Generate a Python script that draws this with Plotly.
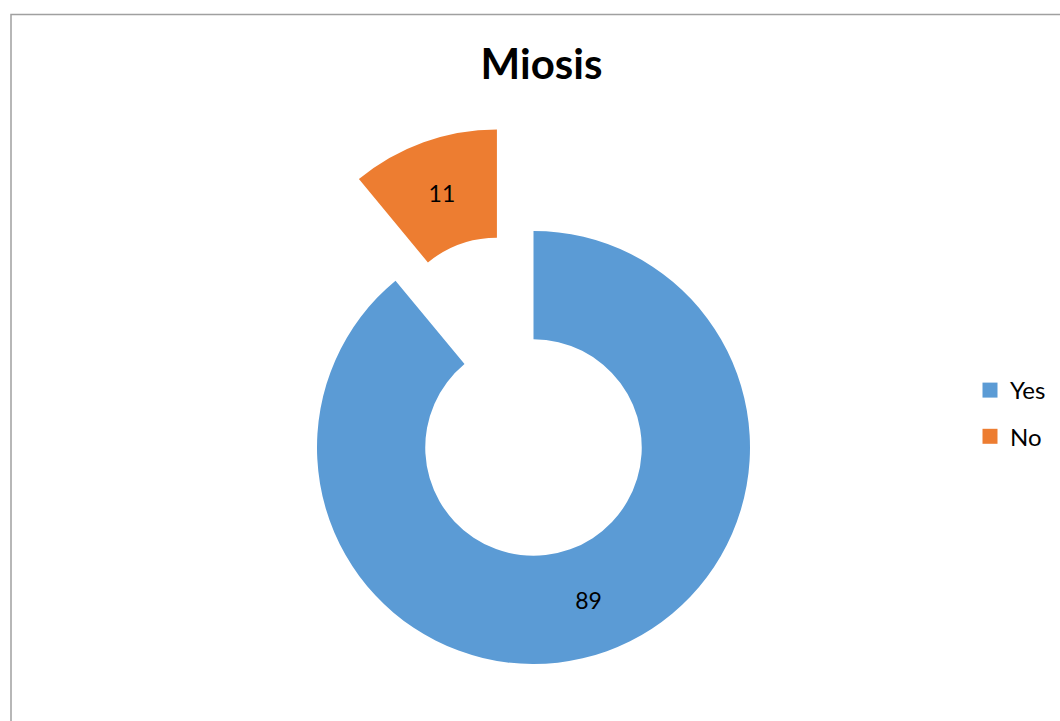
import math
import plotly.graph_objects as go

# ---- data ----
title_text = "Miosis"
labels = ["Yes", "No"]
values = [89, 11]
colors = ["#5B9BD5", "#ED7D31"]
pulled = [False, True]          # the "No" slice is exploded out of the ring

# ---- geometry (pixels) ----
W, H = 1060, 721
cx, cy = 533.5, 447.5            # ring centre
R = 216.5                        # outer radius
hole = 0.5
pull_px = 108                    # distance the exploded slice is moved

total = sum(values)
# mid-angle of the "No" slice (clockwise from 12 o'clock)
start = sum(values[:1]) / total * 360
mid = math.radians(start + values[1] / total * 360 / 2)
sx = cx + pull_px * math.sin(mid)
sy = cy - pull_px * math.cos(mid)


def dom(x, y):
    return dict(x=[(x - R) / W, (x + R) / W],
                y=[1 - (y + R) / H, 1 - (y - R) / H])


transparent = "rgba(0,0,0,0)"
label_font = dict(family="Lato", size=23, color="#000000")
fig = go.Figure()

# ring part (not pulled)
fig.add_trace(go.Pie(
    labels=labels, values=values, sort=False, direction="clockwise", rotation=0,
    hole=hole, domain=dom(cx, cy), showlegend=False,
    marker=dict(colors=[c if not p else transparent for c, p in zip(colors, pulled)],
                line=dict(width=0)),
    texttemplate=["%{value}" if not p else "" for p in pulled],
    textposition="inside", insidetextorientation="horizontal",
    textfont=label_font, hoverinfo="skip",
))
# exploded part
fig.add_trace(go.Pie(
    labels=labels, values=values, sort=False, direction="clockwise", rotation=0,
    hole=hole, domain=dom(sx, sy), showlegend=False,
    marker=dict(colors=[c if p else transparent for c, p in zip(colors, pulled)],
                line=dict(width=0)),
    texttemplate=["%{value}" if p else "" for p in pulled],
    textposition="inside", insidetextorientation="horizontal",
    textfont=label_font, hoverinfo="skip",
))

# legend entries
for i, (lab, col) in enumerate(zip(labels, colors)):
    fig.add_trace(go.Scatter(
        x=[None], y=[None], mode="markers", name=lab, legendgroup=f"g{i}",
        marker=dict(symbol="square", size=15, color=col),
    ))

fig.update_layout(
    width=W, height=H,
    margin=dict(l=0, r=0, t=0, b=0),
    paper_bgcolor="white", plot_bgcolor="white",
    xaxis=dict(visible=False), yaxis=dict(visible=False),
    title=dict(text=f"<b>{title_text}</b>", x=541.5 / W, xanchor="center",
               y=1 - 64 / H, yanchor="middle", yref="container", xref="container",
               font=dict(family="Lato", size=42, color="#000000")),
    showlegend=True,
    legend=dict(x=970 / W, xanchor="left", y=1 - 413.5 / H, yanchor="middle",
                font=dict(family="Lato", size=24, color="#000000"),
                tracegroupgap=12, bgcolor="rgba(0,0,0,0)"),
    shapes=[dict(type="rect", xref="paper", yref="paper",
                 x0=11 / W, x1=1.02, y0=-0.02, y1=1 - 14.5 / H,
                 line=dict(color="#a0a0a0", width=1.5), layer="above")],
)

fig.write_html("out.html")
